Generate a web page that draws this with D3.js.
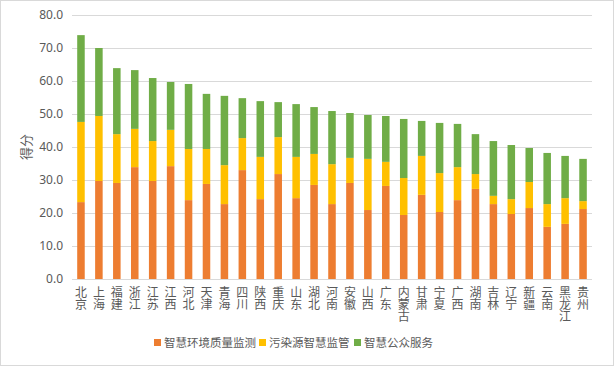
<!DOCTYPE html>
<html><head><meta charset="utf-8">
<script src="https://cdn.jsdelivr.net/npm/d3@7"></script>
<style>body{margin:0;background:#fff}svg{display:block}text{font-family:"Noto Sans CJK SC","Noto Sans",sans-serif;fill:#595959}</style>
</head><body>
<svg id="c" width="614" height="366"></svg>
<script>
const categories = ["北京","上海","福建","浙江","江苏","江西","河北","天津","青海","四川","陕西","重庆","山东","湖北","河南","安徽","山西","广东","内蒙古","甘肃","宁夏","广西","湖南","吉林","辽宁","新疆","云南","黑龙江","贵州"];
const seriesNames = ["智慧环境质量监测","污染源智慧监管","智慧公众服务"];
const envQuality = [23.3,29.7,29.1,33.9,29.7,34.2,23.9,28.8,22.7,33.0,24.2,31.8,24.5,28.5,22.7,29.1,20.9,28.2,19.4,25.5,20.3,23.9,27.3,22.7,19.7,21.5,15.8,16.7,21.2];
const pollution = [24.3,19.7,14.8,11.6,12.1,11.0,15.5,10.6,11.8,9.7,12.8,11.2,12.5,9.4,12.1,7.6,15.5,7.3,11.2,11.8,11.8,10.0,4.5,2.5,4.5,7.9,6.9,7.8,2.4];
const publicService = [26.3,20.6,20.0,17.8,19.1,14.5,19.7,16.7,21.0,12.1,16.9,10.6,16.0,14.2,16.1,13.6,13.3,13.9,17.9,10.6,15.2,13.1,12.1,16.6,16.4,10.3,15.5,12.8,12.8];
const yTicks = [0,10,20,30,40,50,60,70,80];
const colors = ["#ED7D31","#FFC000","#70AD47"];

const svg = d3.select("#c");
svg.append("rect").attr("x",0.5).attr("y",0.5).attr("width",613).attr("height",365).attr("fill","#fff").attr("stroke","#D9D9D9");

const m = {left:72, right:592, top:15, bottom:279};
const x = d3.scaleBand().domain(categories).range([m.left,m.right]).paddingInner(0.58).paddingOuter(0.29);
const y = d3.scaleLinear().domain([0,80]).range([m.bottom,m.top]);

// gridlines
svg.append("g").selectAll("line").data(yTicks).join("line")
  .attr("x1",m.left).attr("x2",m.right)
  .attr("y1",d=>Math.round(y(d))+0.5).attr("y2",d=>Math.round(y(d))+0.5)
  .attr("stroke","#D9D9D9").attr("stroke-width",1);

// y axis labels
const ya = svg.append("g").attr("transform",`translate(${m.left},0)`)
  .call(d3.axisLeft(y).tickValues(yTicks).tickFormat(d3.format(".1f")).tickSize(0).tickPadding(9));
ya.select(".domain").remove();
ya.selectAll("text").style("font-size","12px").attr("fill","#595959").style("font-family","'Noto Sans','Noto Sans CJK SC',sans-serif");

// stacked data
const rows = categories.map((c,i)=>({cat:c, s0:envQuality[i], s1:pollution[i], s2:publicService[i]}));
const stack = d3.stack().keys(["s0","s1","s2"])(rows);
svg.append("g").selectAll("g").data(stack).join("g").attr("fill",(d,i)=>colors[i])
  .selectAll("rect").data(d=>d).join("rect")
  .attr("x",d=>x(d.data.cat)).attr("width",x.bandwidth())
  .attr("y",d=>y(d[1])).attr("height",d=>y(d[0])-y(d[1]));

// baseline
svg.append("line").attr("x1",m.left).attr("x2",m.right).attr("y1",m.bottom+0.5).attr("y2",m.bottom+0.5).attr("stroke","#D9D9D9");

// x labels vertical (one text per character)
const xl = svg.append("g");
categories.forEach(c=>{
  const cx = x(c)+x.bandwidth()/2;
  [...c].forEach((ch,k)=>{
    xl.append("text").attr("text-anchor","middle").style("font-size","12px")
      .attr("x",cx).attr("y",297+k*12.2).text(ch);
  });
});

// y title
svg.append("text").attr("transform","translate(31,147) rotate(-90)").attr("text-anchor","middle")
  .style("font-size","13px").text("得分");

// legend
const legX = [154,259,354];
const lg = svg.append("g");
seriesNames.forEach((n,i)=>{
  lg.append("rect").attr("x",legX[i]).attr("y",339).attr("width",7).attr("height",7).attr("fill",colors[i]);
  lg.append("text").attr("x",legX[i]+10).attr("y",347).style("font-size","11.5px").text(n);
});
</script>
</body></html>
